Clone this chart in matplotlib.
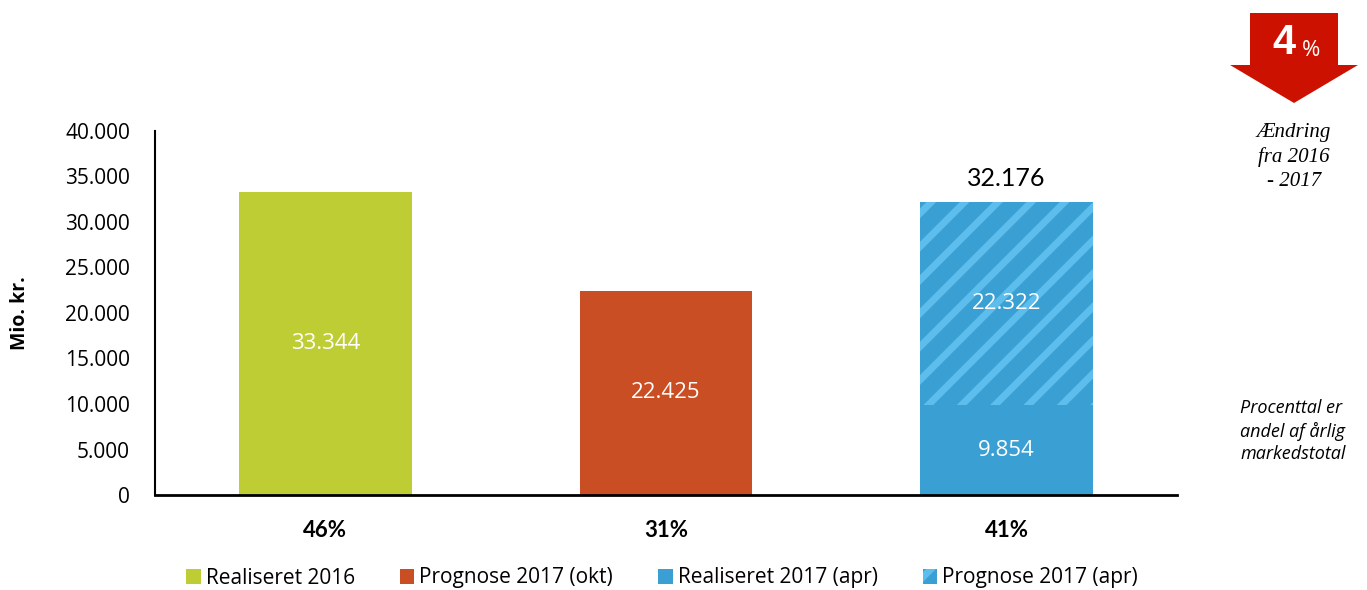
import matplotlib.pyplot as plt
import numpy as np
from matplotlib.patches import Polygon, Patch

plt.rcParams["font.family"] = ["Open Sans", "DejaVu Sans"]
plt.rcParams["hatch.linewidth"] = 5

# data (mio. kr.)
realised_2016 = 33344
forecast_okt = 22425
realised_apr = 9854
forecast_apr = 22322
shares = ["46%", "31%", "41%"]
yticks = [0, 5000, 10000, 15000, 20000, 25000, 30000, 35000, 40000]
labels = ["Realiseret 2016", "Prognose 2017 (okt)", "Realiseret 2017 (apr)",
          "Prognose 2017 (apr)"]

green = "#bfcd35"
orange = "#c94e23"
blue = "#3aa0d3"
light_blue = "#5dbdec"
red = "#cc1100"


def dk(v):
    return f"{v:,}".replace(",", ".")


fig = plt.figure(figsize=(13.67, 5.9), dpi=100)
ax = fig.add_axes([155 / 1367, 1 - 495 / 590, 1022 / 1367, 364 / 590])

x = np.arange(3)
w = 0.506
ax.bar(x[0], realised_2016, w, color=green)
ax.bar(x[1], forecast_okt, w, color=orange)
ax.bar(x[2], realised_apr, w, color=blue)
ax.bar(x[2], forecast_apr, w, bottom=realised_apr, color=blue,
       edgecolor=light_blue, hatch="/", linewidth=0)

# value labels inside bars
ax.text(x[0], realised_2016 / 2, dk(realised_2016),
        ha="center", va="center", color="white", fontsize=16)
ax.text(x[1], forecast_okt / 2, dk(forecast_okt),
        ha="center", va="center", color="white", fontsize=16)
ax.text(x[2], realised_apr / 2, dk(realised_apr),
        ha="center", va="center", color="white", fontsize=16)
ax.text(x[2], realised_apr + forecast_apr / 2, dk(forecast_apr),
        ha="center", va="center", color="white", fontsize=16)
total = realised_apr + forecast_apr
ax.text(x[2], total + 1300, dk(total),
        ha="center", va="bottom", color="black", fontsize=18, family="Lato")

ax.set_xlim(-0.5, 2.5)
ax.set_ylim(0, 40000)
ax.set_yticks(yticks)
ax.set_yticklabels([dk(v) for v in yticks], fontsize=15)
ax.set_xticks(x)
ax.set_xticklabels(shares, fontsize=16, fontweight="bold", family="Lato")
ax.tick_params(axis="y", length=0, pad=18)
ax.tick_params(axis="x", length=0, pad=18)
for side in ["top", "right"]:
    ax.spines[side].set_visible(False)
ax.spines["left"].set_linewidth(1.5)
ax.spines["bottom"].set_linewidth(2)
fig.text(20 / 1367, 1 - 313 / 590, "Mio. kr.", rotation=90, fontsize=14,
         fontweight="bold", ha="center", va="center")

# legend
handles = [
    Patch(facecolor=green),
    Patch(facecolor=orange),
    Patch(facecolor=blue),
    Patch(facecolor=blue, edgecolor=light_blue, hatch="/", linewidth=0),
]
fig.legend(handles, labels, loc="center", bbox_to_anchor=(662 / 1367, 1 - 578 / 590),
           ncol=4, frameon=False, fontsize=15, handlelength=0.7, handleheight=0.7,
           handletextpad=0.25, columnspacing=2.15)

# change arrow
arrow_pts = [(px / 1367, 1 - py / 590) for px, py in
             [(1250, 13), (1338, 13), (1338, 65), (1358, 65), (1294, 103),
              (1230, 65), (1250, 65)]]
fig.patches.append(Polygon(arrow_pts, closed=True, facecolor=red, edgecolor="none",
                           transform=fig.transFigure, figure=fig))
fig.text(1284 / 1367, 1 - 43 / 590, "4", color="white", fontsize=30, fontweight="bold",
         ha="center", va="center", family="Liberation Sans")
fig.text(1311 / 1367, 1 - 50 / 590, "%", color="white", fontsize=16,
         ha="center", va="center")
fig.text(1294 / 1367, 1 - 157 / 590, "Ændring\nfra 2016\n- 2017", fontsize=15,
         ha="center", va="center", style="italic", family="Liberation Serif",
         linespacing=1.35)

fig.text(1240 / 1367, 1 - 431 / 590, "Procenttal er\nandel af årlig\nmarkedstotal",
         fontsize=13, style="italic", ha="left", va="center", linespacing=1.3)

fig.savefig("out.png", dpi=100)
